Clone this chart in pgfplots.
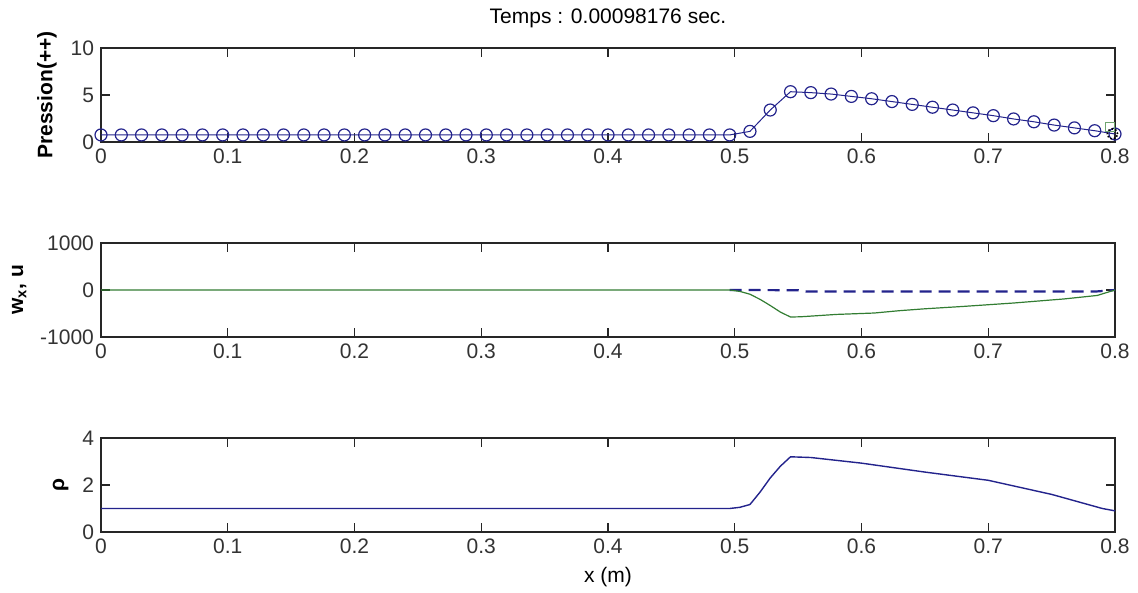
\documentclass[border=0pt]{standalone}
\usepackage{pgfplots}
\pgfplotsset{compat=1.18}
\usepackage{fontspec}
\setmainfont{Liberation Sans}
\definecolor{mblue}{RGB}{35,35,140}
\definecolor{mgreen}{RGB}{50,125,50}
\pgfplotsset{
  panel/.style={
    scale only axis, width=507pt, height=47pt, anchor=south west,
    xmin=0, xmax=0.8,
    xtick={0,0.1,0.2,0.3,0.4,0.5,0.6,0.7,0.8},
    xticklabels={0,0.1,0.2,0.3,0.4,0.5,0.6,0.7,0.8},
    tick align=inside, xtick pos=both, ytick pos=both,
    major tick length=4.5pt,
    axis line style={line width=0.6pt, black!85},
    every tick/.style={line width=0.6pt, black!85},
    tick label style={font=\fontsize{10.5}{12}\selectfont, black!80},
    label style={font=\fontsize{10.5}{12}\selectfont},
    /pgf/number format/assume math mode=true,
  },
}
\begin{document}
\begin{tikzpicture}
\path[use as bounding box] (0,0) rectangle (569pt,296.5pt);

% pression
\begin{axis}[panel, at={(50.5pt,225.5pt)},
  ymin=0, ymax=10, ytick={0,5,10}, yticklabels={0,5,10},
  ylabel={\bfseries Pression(++)},
  title={Temps : 0.00098176 sec.},
  title style={font=\fontsize{10.5}{12}\selectfont, yshift=0.5pt},
]
\addplot[mblue, line width=0.5pt, mark=o, mark size=3pt,
  mark options={line width=0.6pt}] coordinates {
(0.000,0.75)(0.016,0.75)(0.032,0.75)(0.048,0.75)(0.064,0.75)(0.080,0.75)
(0.096,0.75)(0.112,0.75)(0.128,0.75)(0.144,0.75)(0.160,0.75)(0.176,0.75)
(0.192,0.75)(0.208,0.75)(0.224,0.75)(0.240,0.75)(0.256,0.75)(0.272,0.75)
(0.288,0.75)(0.304,0.75)(0.320,0.75)(0.336,0.75)(0.352,0.75)(0.368,0.75)
(0.384,0.75)(0.400,0.75)(0.416,0.75)(0.432,0.75)(0.448,0.75)(0.464,0.75)
(0.480,0.75)(0.496,0.75)(0.512,1.13)(0.528,3.40)(0.544,5.35)(0.560,5.25)
(0.576,5.10)(0.592,4.85)(0.608,4.60)(0.624,4.30)(0.640,4.00)(0.656,3.70)
(0.672,3.40)(0.688,3.10)(0.704,2.80)(0.720,2.45)(0.736,2.15)(0.752,1.80)
(0.768,1.50)(0.784,1.20)(0.800,0.85)
};
\addplot[only marks, mgreen!70, mark=square, mark size=2.2pt] coordinates {(0.796,1.6)};
\addplot[only marks, black, mark=o, mark size=2.6pt, mark options={densely dotted, line width=0.8pt}] coordinates {(0.798,0.85)};
\end{axis}

% vitesse
\begin{axis}[panel, at={(50.5pt,128pt)},
  ymin=-1000, ymax=1000, ytick={-1000,0,1000}, yticklabels={-1000,0,1000},
  ylabel={\bfseries w\textsubscript{x}, u},
]
\addplot[mblue, line width=1.1pt, dash pattern=on 6pt off 3.5pt] coordinates {
(0.496,0)(0.550,-5)(0.556,-30)(0.786,-30)(0.8,0)
};
\addplot[mgreen, line width=0.6pt] coordinates {
(0,0)(0.496,0)(0.504,-30)(0.512,-90)(0.520,-200)(0.528,-330)(0.536,-470)
(0.544,-575)(0.552,-570)(0.580,-520)(0.610,-490)(0.630,-440)(0.650,-400)
(0.680,-350)(0.720,-277)(0.760,-190)(0.786,-116)(0.800,0)
};
\end{axis}

% masse volumique
\begin{axis}[panel, at={(50.5pt,30.5pt)},
  ymin=0, ymax=4, ytick={0,2,4}, yticklabels={0,2,4},
  ylabel={\bfseries ρ},
  xlabel={x (m)},
]
\addplot[mblue, line width=0.7pt] coordinates {
(0,1)(0.496,1)(0.504,1.05)(0.512,1.17)(0.520,1.70)(0.528,2.30)(0.536,2.80)
(0.544,3.20)(0.560,3.17)(0.600,2.93)(0.650,2.55)(0.700,2.20)(0.750,1.60)
(0.780,1.15)(0.790,1.00)(0.800,0.90)
};
\end{axis}
\end{tikzpicture}
\end{document}
